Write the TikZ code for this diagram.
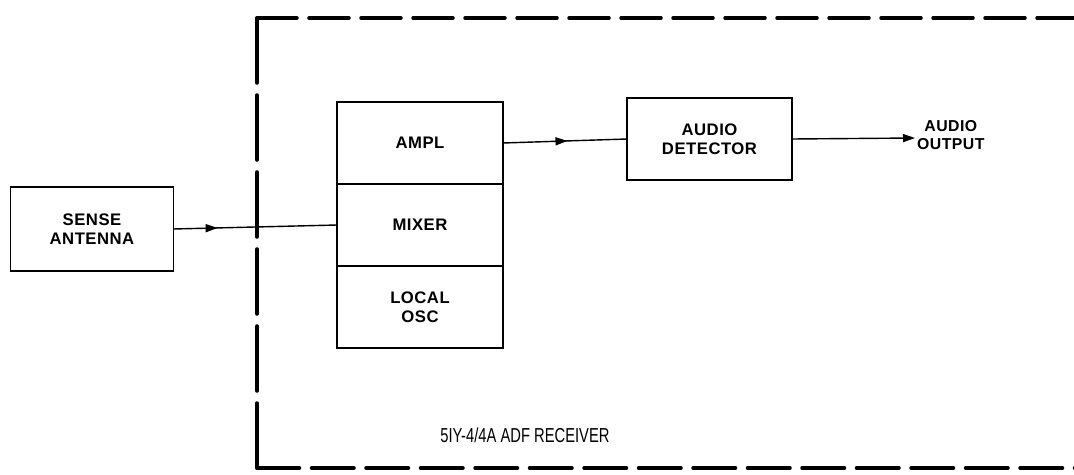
\documentclass[tikz,border=0pt]{standalone}
\usepackage{fontspec}
\setmainfont{Liberation Sans}
\newfontfamily\lettering[LetterSpace=3]{Liberation Sans}
\usepackage{graphicx}
\usepackage{tikz}
\usetikzlibrary{positioning,arrows.meta,decorations.markings}

\begin{document}
\begin{tikzpicture}[
    block/.style={draw,line width=1pt,minimum width=3.3cm,minimum height=1.64cm,
      inner sep=0pt,outer sep=0pt,align=center,
      font=\lettering\bfseries\fontsize{9.5}{10.8}\selectfont},
    flow/.style={line width=0.8pt},
    midarrow/.style={postaction={decorate},decoration={markings,
      mark=at position #1 with {\arrow{Triangle[length=2.4mm,width=1.6mm]}}}},
    frame/.style={line width=2pt,line cap=round}]
\useasboundingbox (0,0) rectangle (21.48,-9.5);
% blocks
\node[block,minimum width=3.26cm,minimum height=1.68cm] (sense) at (1.84,-4.58) {SENSE\\ANTENNA};
\node[block,minimum width=3.32cm] (ampl) at (8.40,-2.86) {AMPL};
\node[block,minimum width=3.32cm,below=0pt of ampl] (mixer) {MIXER};
\node[block,minimum width=3.32cm,below=0pt of mixer] (osc) {LOCAL\\OSC};
\node[block] (det) at (14.19,-2.78) {AUDIO\\DETECTOR};
\coordinate (out) at (18.3,-2.76);
\node[anchor=west,inner sep=1pt,yshift=0.06cm,align=center,
  font=\lettering\bfseries\fontsize{9}{10}\selectfont] (outlbl) at (out) {AUDIO\\OUTPUT};
% signal lines
\draw[flow,midarrow=0.27] (sense.east) -- (mixer.west);
\draw[flow,midarrow=0.52] (ampl.east) -- (det.west);
\draw[flow,-{Triangle[length=2.4mm,width=1.6mm]}] (det.east) -- (out);
% receiver frame
\coordinate (tl) at (5.14,-0.36);
\coordinate (bl) at (5.14,-9.36);
\coordinate (tr) at (21.7,-0.36);
\coordinate (br) at (21.7,-9.36);
\draw[frame,dash pattern=on 1.3cm off 0.24cm] (tl) -- (bl);
\draw[frame,dash pattern=on 0.8cm off 0.24cm] (tl) -- (tr);
\draw[frame,dash pattern=on 0.85cm off 0.24cm] (bl) -- (br);
\node[font=\fontsize{11.5}{12}\selectfont] (rcvr) at (10.5,-8.7) {\scalebox{0.73}[1]{5IY-4/4A ADF RECEIVER}};
\end{tikzpicture}
\end{document}
